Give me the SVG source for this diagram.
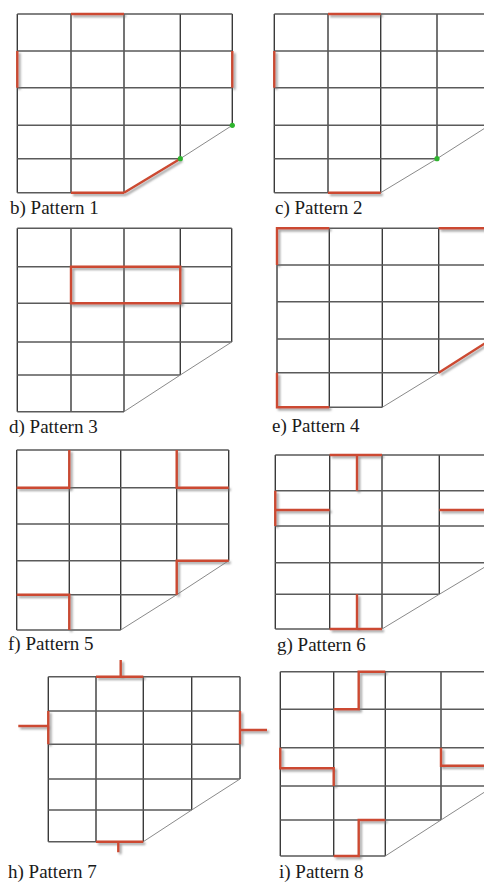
<svg xmlns="http://www.w3.org/2000/svg" width="484" height="885" viewBox="0 0 484 885">
<defs>
<filter id="sh" x="-20%" y="-20%" width="140%" height="140%">
<feDropShadow dx="2" dy="2" stdDeviation="1" flood-color="#777" flood-opacity="0.7"/>
</filter>
</defs>
<style>
.v{stroke:#3a3a3a;stroke-width:1.4;fill:none}
.h{stroke:#5a5a5a;stroke-width:1.4;fill:none}
.d{stroke:#8a8a8a;stroke-width:1;fill:none}
.r{stroke:#cc4a30;stroke-width:2.4;fill:none;filter:url(#sh)}
.g{fill:#2fb52f}
text{font-family:'Liberation Serif','Times New Roman',serif;font-size:19px;fill:#1a1a1a}
</style>
<rect width="484" height="885" fill="#fff"/>

<g id="pattern1">
<path class="v" d="M17.3,14V192.7M71,14V192.7M124,14V192.7M180.3,14V158.7M232.3,14V125.3"/>
<path class="h" d="M17.3,14H232.3M17.3,51H232.3M17.3,87.7H232.3M17.3,125.3H232.3M17.3,158.7H180.3M17.3,192.7H124"/>
<path class="d" d="M124,192.7L180.3,158.7L232.3,125.3"/>
<path class="r" d="M71,14H124M17.3,51V87.7M232.3,51V87.7M71,192.7H124M124,192.7L180.3,158.7"/>
<circle class="g" cx="180.3" cy="158.7" r="2.6"/>
<circle class="g" cx="232.3" cy="125.3" r="2.6"/>
<text x="10" y="214" font-family="Liberation Serif, serif">b) Pattern 1</text>
</g>

<g id="pattern2">
<path class="v" d="M274.3,14V192.7M328,14V192.7M380.7,14V192.7M437,14V158.7M489.3,14V125.3"/>
<path class="h" d="M274.3,14H489.3M274.3,51H489.3M274.3,87.7H489.3M274.3,125.3H489.3M274.3,158.7H437M274.3,192.7H380.7"/>
<path class="d" d="M380.7,192.7L437,158.7L489.3,125.3"/>
<path class="r" d="M328,14H380.7M274.3,51V87.7M328,192.7H380.7"/>
<circle class="g" cx="437" cy="158.7" r="2.6"/>
<text x="275" y="214" font-family="Liberation Serif, serif">c) Pattern 2</text>
</g>

<g id="pattern3">
<path class="v" d="M17.3,228.3V411.7M71,228.3V411.7M124,228.3V411.7M180.3,228.3V375M231.7,228.3V342"/>
<path class="h" d="M17.3,228.3H231.7M17.3,266.7H231.7M17.3,303.3H231.7M17.3,342H231.7M17.3,375H180.3M17.3,411.7H124"/>
<path class="d" d="M124,411.7L180.3,375L231.7,342"/>
<path class="r" d="M71,266.7H180.3V303.3H71Z"/>
<text x="9" y="433" font-family="Liberation Serif, serif">d) Pattern 3</text>
</g>

<g id="pattern4">
<path class="v" d="M277,228.3V407.3M329.3,228.3V407.3M382.3,228.3V407.3M438.7,228.3V372.7M491.7,228.3V339"/>
<path class="h" d="M277,228.3H491.7M277,265H491.7M277,301.7H491.7M277,339H491.7M277,372.7H438.7M277,407.3H382.3"/>
<path class="d" d="M382.3,407.3L438.7,372.7"/>
<path class="r" d="M277,265V228.3H329.3M438.7,228.3H492M277,372.7V407.3H329.3M438.7,372.7L491.7,339"/>
<text x="272" y="432" font-family="Liberation Serif, serif">e) Pattern 4</text>
</g>

<g id="pattern5">
<path class="v" d="M16.7,450V630M69.3,450V630M120.7,450V630M176.7,450V594.7M228.7,450V560.7"/>
<path class="h" d="M16.7,450H228.7M16.7,487.7H228.7M16.7,524H228.7M16.7,560.7H228.7M16.7,594.7H176.7M16.7,630H120.7"/>
<path class="d" d="M120.7,630L176.7,594.7L228.7,560.7"/>
<path class="r" d="M69.3,450V487.7H16.7M176.7,450V487.7H228.7M228.7,560.7H176.7V594.7M16.7,594.7H69.3V630"/>
<text x="8" y="650" font-family="Liberation Serif, serif">f) Pattern 5</text>
</g>

<g id="pattern6">
<path class="v" d="M275.3,455V629M329.7,455V629M382,455V629M439.3,455V594.3M492,455V562.7"/>
<path class="h" d="M275.3,455H492M275.3,490.7H492M275.3,526H492M275.3,562.7H492M275.3,594.3H439.3M275.3,629H382"/>
<path class="d" d="M382,629L439.3,594.3L492,562.7"/>
<path class="r" d="M329.7,455H382M357,455V490.7M275.3,490.7V526M275.3,510H329.7M439.3,510H492M329.7,629H382M357,594.3V629"/>
<text x="277" y="651" font-family="Liberation Serif, serif">g) Pattern 6</text>
</g>

<g id="pattern7">
<path class="v" d="M48.3,676.7V841.7M96,676.7V841.7M143.3,676.7V841.7M191.7,676.7V810M240,676.7V779"/>
<path class="h" d="M48.3,676.7H240M48.3,711H240M48.3,744.3H240M48.3,779H240M48.3,810H191.7M48.3,841.7H143.3"/>
<path class="d" d="M143.3,841.7L191.7,810L240,779"/>
<path class="r" d="M96,676.7H143.3M120.7,660V676.7M48.3,711V744.3M18.3,726H48.3M240,711V744.3M240,730H267M96,841.7H143.3M118.3,841.7V852.3"/>
<text x="8" y="878" font-family="Liberation Serif, serif">h) Pattern 7</text>
</g>

<g id="pattern8">
<path class="v" d="M280.3,671.7V856M333.7,671.7V856M385.3,671.7V856M441,671.7V820M494,671.7V786"/>
<path class="h" d="M280.3,671.7H494M280.3,709.3H494M280.3,747.7H494M280.3,786H494M280.3,820H441M280.3,856H385.3"/>
<path class="d" d="M385.3,856L441,820L494,786"/>
<path class="r" d="M333.7,709.3H358.7V671.7H385.3M280.3,747.7V768.3H333.7V786M441,747.7V765.7H494M333.7,856H358.7V820H385.3"/>
<text x="279" y="878" font-family="Liberation Serif, serif">i) Pattern 8</text>
</g>
</svg>
